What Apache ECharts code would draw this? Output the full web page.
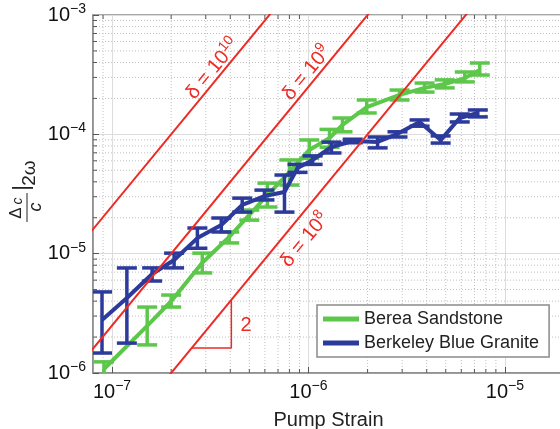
<!DOCTYPE html>
<html><head><meta charset="utf-8">
<script src="https://cdn.jsdelivr.net/npm/echarts@6/dist/echarts.min.js"></script>
<style>html,body{margin:0;padding:0;background:#fff}#c{width:560px;height:429px}</style>
</head><body><div id="c"></div>
<script>
// axis ranges and ticks
const xMin = 8e-8, xMax = 2e-5, yMin = 1e-6, yMax = 1e-3;
const xMinor = [9e-8, 2e-7, 3e-7, 4e-7, 5e-7, 6e-7, 7e-7, 8e-7, 9e-7, 2e-6, 3e-6, 4e-6, 5e-6, 6e-6, 7e-6, 8e-6, 9e-6];
const yMinor = [2e-6, 3e-6, 4e-6, 5e-6, 6e-6, 7e-6, 8e-6, 9e-6, 2e-5, 3e-5, 4e-5, 5e-5, 6e-5, 7e-5, 8e-5, 9e-5, 2e-4, 3e-4, 4e-4, 5e-4, 6e-4, 7e-4, 8e-4, 9e-4];

// Berea Sandstone
const bereaX  = [9.1e-8, 1.51e-7, 2.0e-7, 2.88e-7, 3.95e-7, 5.0e-7, 6.18e-7, 8.0e-7, 1.01e-6, 1.28e-6, 1.49e-6, 1.98e-6, 2.91e-6, 3.9e-6, 4.94e-6, 6.25e-6, 7.45e-6];
const bereaY  = [1.08e-6, 2.48e-6, 4.0e-6, 8.4e-6, 1.38e-5, 2.11e-5, 3.1e-5, 4.83e-5, 7.4e-5, 9.3e-5, 1.2e-4, 1.69e-4, 2.14e-4, 2.45e-4, 2.64e-4, 2.96e-4, 3.46e-4];
const bereaLo = [0.92e-6, 1.72e-6, 3.57e-6, 6.9e-6, 1.23e-5, 1.91e-5, 2.46e-5, 3.76e-5, 6.3e-5, 7.8e-5, 1.05e-4, 1.51e-4, 1.94e-4, 2.26e-4, 2.45e-4, 2.75e-4, 3.14e-4];
const bereaHi = [1.24e-6, 3.57e-6, 4.5e-6, 1.01e-5, 1.52e-5, 2.32e-5, 3.9e-5, 6.1e-5, 8.97e-5, 1.1e-4, 1.37e-4, 1.94e-4, 2.35e-4, 2.69e-4, 2.86e-4, 3.33e-4, 3.96e-4];

// Berkeley Blue Granite
const graniteX  = [8.89e-8, 1.19e-7, 1.6e-7, 2.07e-7, 2.72e-7, 3.6e-7, 4.6e-7, 5.97e-7, 7.55e-7, 8.8e-7, 1.05e-6, 1.31e-6, 1.68e-6, 2.25e-6, 2.84e-6, 3.68e-6, 4.71e-6, 5.89e-6, 7.28e-6];
const graniteY  = [2.78e-6, 4.25e-6, 6.76e-6, 8.85e-6, 1.35e-5, 1.74e-5, 2.56e-5, 3.04e-5, 3.29e-5, 5.22e-5, 6.1e-5, 7.83e-5, 8.8e-5, 8.63e-5, 1.01e-4, 1.27e-4, 8.95e-5, 1.37e-4, 1.51e-4];
const graniteLo = [1.47e-6, 1.78e-6, 5.9e-6, 7.6e-6, 1.11e-5, 1.52e-5, 2.23e-5, 2.82e-5, 2.23e-5, 4.8e-5, 5.6e-5, 6.98e-5, 8.5e-5, 7.7e-5, 9.5e-5, 1.17e-4, 8.45e-5, 1.27e-4, 1.4e-4];
const graniteHi = [4.78e-6, 7.59e-6, 7.6e-6, 1.01e-5, 1.64e-5, 1.99e-5, 2.92e-5, 3.41e-5, 4.56e-5, 5.6e-5, 6.6e-5, 8.6e-5, 9.1e-5, 9.5e-5, 1.05e-4, 1.32e-4, 9.7e-5, 1.48e-4, 1.6e-4];

// reference lines delta = 1e10, 1e9, 1e8 (endpoints, clipped by the grid)
const delta10 = [[1e-8, 2.5e-7], [1e-5, 0.25]];
const delta9  = [[1e-8, 2.5e-8], [1e-4, 2.5]];
const delta8  = [[1e-8, 2.5e-9], [1e-4, 0.25]];
// slope triangle
const triangle = [[2.55e-7, 1.62e-6], [4.05e-7, 1.62e-6], [4.05e-7, 4.1e-6]];

const GREEN = '#5cc74a', BLUE = '#2b3a9b', RED = '#ee2a24';
const FONT = 'Liberation Sans, Arial, sans-serif';

function zip(a, b) { return a.map((v, i) => [v, b[i]]); }
function zip3(a, b, c) { return a.map((v, i) => [v, b[i], c[i]]); }

function errItem(color) {
  return function (params, api) {
    const x = api.value(0), lo = api.value(1), hi = api.value(2);
    const p1 = api.coord([x, lo]), p2 = api.coord([x, hi]);
    const w = 10, st = { stroke: color, lineWidth: 3.5 };
    return { type: 'group', children: [
      { type: 'line', shape: { x1: p1[0], y1: p1[1], x2: p2[0], y2: p2[1] }, style: st },
      { type: 'line', shape: { x1: p1[0] - w, y1: p1[1], x2: p1[0] + w, y2: p1[1] }, style: st },
      { type: 'line', shape: { x1: p2[0] - w, y1: p2[1], x2: p2[0] + w, y2: p2[1] }, style: st }
    ]};
  };
}

function expLabel(v) {
  const e = Math.round(Math.log10(v));
  return '{b|10}{s|\u2212' + Math.abs(e) + '}';
}
const richLab = {
  b: { fontSize: 20, fontFamily: FONT, color: '#111' },
  s: { fontSize: 14, fontFamily: FONT, color: '#111', padding: [0, 0, 12, 0] }
};
const richRed = { a: { fontSize: 20, fontFamily: FONT, fill: RED }, s: { fontSize: 14, fontFamily: FONT, fill: RED, padding: [0, 0, 12, 0] } };

const chart = echarts.init(document.getElementById('c'));
chart.setOption({
  animation: false,
  backgroundColor: '#fff',
  grid: { left: 93, top: 15, right: -4, bottom: 56, show: true, borderColor: '#8a8a8a', borderWidth: 1.5, outerBoundsMode: 'none' },
  xAxis: {
    type: 'log', min: xMin, max: xMax, logBase: 10,
    name: 'Pump Strain', nameLocation: 'middle', nameGap: 37,
    nameTextStyle: { fontSize: 20, fontFamily: FONT, color: '#222' },
    axisLine: { show: true, lineStyle: { color: '#8a8a8a', width: 1.5 } },
    axisTick: { inside: true, length: 6, lineStyle: { color: '#555' } },
    axisLabel: { formatter: expLabel, rich: richLab, margin: 6, showMinLabel: false, showMaxLabel: false },
    splitLine: { show: true, lineStyle: { color: '#dcdcdc', width: 1 } }
  },
  yAxis: {
    type: 'log', min: yMin, max: yMax, logBase: 10,
    axisLine: { show: true, lineStyle: { color: '#8a8a8a', width: 1.5 } },
    axisTick: { inside: true, length: 6, lineStyle: { color: '#555' } },
    axisLabel: { formatter: expLabel, rich: richLab, margin: 7 },
    splitLine: { show: true, lineStyle: { color: '#dcdcdc', width: 1 } }
  },
  legend: {
    data: ['Berea Sandstone', 'Berkeley Blue Granite'],
    orient: 'vertical', left: 317, top: 305,
    backgroundColor: '#fff', borderColor: '#8a8a8a', borderWidth: 1.5, borderRadius: 0,
    padding: [5, 10, 5, 6], itemWidth: 36, itemHeight: 5, itemGap: 6, icon: 'rect',
    textStyle: { fontSize: 18, fontFamily: FONT, color: '#222' }
  },
  series: [
    { type: 'custom', name: 'gx', z: 1, silent: true, data: xMinor.map(v => [v, yMin]),
      renderItem: function (params, api) {
        const p = api.coord([api.value(0), api.value(1)]); const cs = params.coordSys;
        return { type: 'group', children: [
          { type: 'line', shape: { x1: p[0], y1: cs.y, x2: p[0], y2: cs.y + cs.height }, style: { stroke: '#c0c0c0', lineWidth: 1, lineDash: [1, 2] } },
          { type: 'line', shape: { x1: p[0], y1: cs.y + cs.height, x2: p[0], y2: cs.y + cs.height - 4 }, style: { stroke: '#555', lineWidth: 1 } },
          { type: 'line', shape: { x1: p[0], y1: cs.y, x2: p[0], y2: cs.y + 4 }, style: { stroke: '#555', lineWidth: 1 } }
        ]};
      } },
    { type: 'custom', name: 'gy', z: 1, silent: true, data: yMinor.map(v => [xMin, v]),
      renderItem: function (params, api) {
        const p = api.coord([api.value(0), api.value(1)]); const cs = params.coordSys;
        return { type: 'group', children: [
          { type: 'line', shape: { x1: cs.x, y1: p[1], x2: cs.x + cs.width, y2: p[1] }, style: { stroke: '#c0c0c0', lineWidth: 1, lineDash: [1, 2] } },
          { type: 'line', shape: { x1: cs.x, y1: p[1], x2: cs.x + 4, y2: p[1] }, style: { stroke: '#555', lineWidth: 1 } }
        ]};
      } },
    { type: 'custom', name: 'Berea err', z: 3, clip: true, encode: { x: 0, y: [1, 2] },
      data: zip3(bereaX, bereaLo, bereaHi), renderItem: errItem(GREEN) },
    { type: 'line', name: 'Berea Sandstone', z: 4, data: zip(bereaX, bereaY), symbol: 'none',
      itemStyle: { color: GREEN }, lineStyle: { color: GREEN, width: 4 } },
    { type: 'custom', name: 'Granite err', z: 5, clip: true, encode: { x: 0, y: [1, 2] },
      data: zip3(graniteX, graniteLo, graniteHi), renderItem: errItem(BLUE) },
    { type: 'line', name: 'Berkeley Blue Granite', z: 6, data: zip(graniteX, graniteY), symbol: 'none',
      itemStyle: { color: BLUE }, lineStyle: { color: BLUE, width: 4 } },
    { type: 'line', name: 'd10', z: 8, data: delta10, symbol: 'none', clip: true, silent: true, lineStyle: { color: RED, width: 2 } },
    { type: 'line', name: 'd9', z: 8, data: delta9, symbol: 'none', clip: true, silent: true, lineStyle: { color: RED, width: 2 } },
    { type: 'line', name: 'd8', z: 8, data: delta8, symbol: 'none', clip: true, silent: true, lineStyle: { color: RED, width: 2 } },
    { type: 'line', name: 'tri', z: 8, data: triangle, symbol: 'none', clip: true, silent: true, lineStyle: { color: RED, width: 1.5 } }
  ],
  graphic: [
    { type: 'text', x: 213, y: 69, rotation: 0.883, z: 100, style: { text: '{a|\u03b4 = 10}{s|10}', align: 'center', verticalAlign: 'middle', rich: richRed } },
    { type: 'text', x: 307, y: 73, rotation: 0.883, z: 100, style: { text: '{a|\u03b4 = 10}{s|9}', align: 'center', verticalAlign: 'middle', rich: richRed } },
    { type: 'text', x: 305, y: 240, rotation: 0.883, z: 100, style: { text: '{a|\u03b4 = 10}{s|8}', align: 'center', verticalAlign: 'middle', rich: richRed } },
    { type: 'text', x: 246, y: 325, z: 100, style: { text: '2', font: '20px ' + FONT, fill: RED, align: 'center', verticalAlign: 'middle' } },
    { type: 'group', x: 24, y: 192, rotation: Math.PI / 2, z: 100, children: [
      { type: 'text', x: -21, y: -8, style: { text: '\u0394', font: '17px ' + FONT, fill: '#222', align: 'center', verticalAlign: 'middle' } },
      { type: 'text', x: -9, y: -6, style: { text: 'c', font: 'italic 14px ' + FONT, fill: '#222', align: 'center', verticalAlign: 'middle' } },
      { type: 'line', shape: { x1: -30, y1: 3, x2: -1, y2: 3 }, style: { stroke: '#222', lineWidth: 1 } },
      { type: 'text', x: -15, y: 12, style: { text: 'c', font: 'italic 18px ' + FONT, fill: '#222', align: 'center', verticalAlign: 'middle' } },
      { type: 'text', x: 4, y: -2, style: { text: '|', font: '22px ' + FONT, fill: '#222', align: 'center', verticalAlign: 'middle' } },
      { type: 'text', x: 19, y: 6, style: { text: '2\u03c9', font: '19px ' + FONT, fill: '#222', align: 'center', verticalAlign: 'middle' } }
    ]}
  ]
});
</script></body></html>
